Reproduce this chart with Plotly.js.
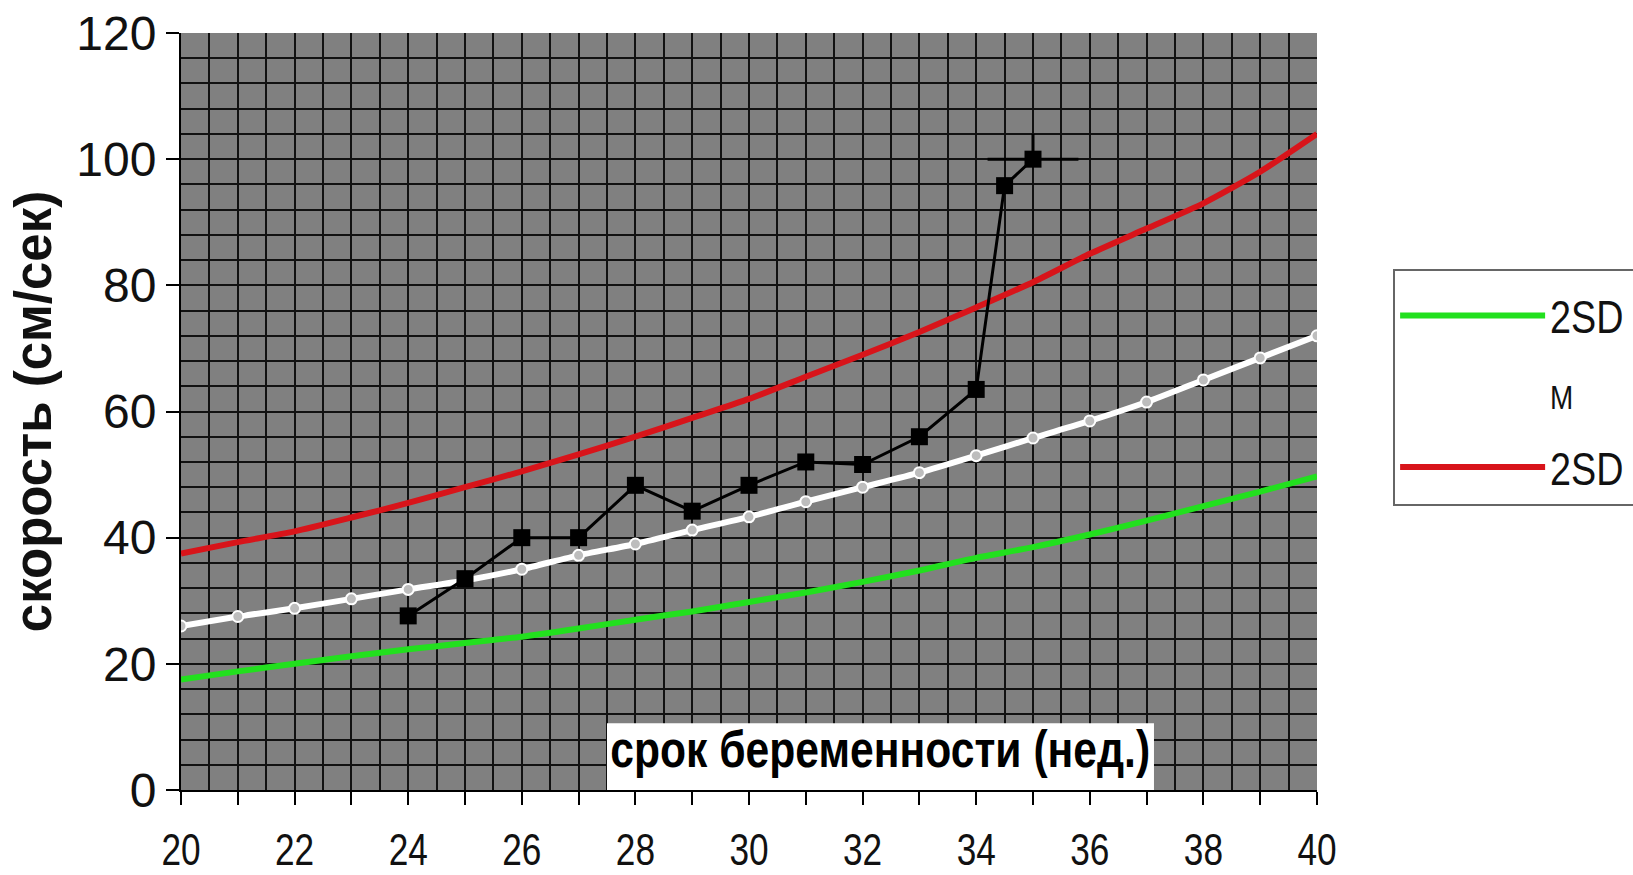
<!DOCTYPE html>
<html>
<head>
<meta charset="utf-8">
<script src="https://cdn.plot.ly/plotly-3.0.1.min.js"></script>
<style>
  html, body { margin: 0; padding: 0; background: #ffffff; }
  #chart { width: 1633px; height: 875px; }
</style>
</head>
<body>
<div id="chart"></div>
<script>
// Gestational age (weeks)
const weeks = [20, 21, 22, 23, 24, 25, 26, 27, 28, 29, 30, 31, 32, 33, 34, 35, 36, 37, 38, 39, 40];
// -2SD (green)
const lowerSD = [17.5, 18.8, 20, 21.2, 22.3, 23.3, 24.3, 25.6, 27, 28.3, 29.8, 31.3, 33, 34.8, 36.8, 38.5, 40.5, 42.7, 45, 47.3, 49.7];
// M (white)
const meanM = [26, 27.5, 28.8, 30.3, 31.8, 33.2, 35, 37.2, 39, 41.2, 43.3, 45.7, 48, 50.3, 53, 55.8, 58.5, 61.5, 65, 68.5, 72];
// +2SD (red)
const upperSD = [37.5, 39.3, 41, 43.2, 45.5, 48, 50.5, 53.2, 56, 59, 62, 65.5, 69, 72.6, 76.5, 80.5, 85, 89, 93, 98, 104];
// Patient measurements (black squares)
const patientWeeks = [24, 25, 26, 27, 28, 29, 30, 31, 32, 33, 34, 34.5, 35];
const patientVel = [27.6, 33.5, 40, 40, 48.3, 44.2, 48.3, 52, 51.6, 56, 63.5, 95.8, 100];
// small cross seen on the last measurement
const crossX = [0, 0, 0, 0, 0, 0, 0, 0, 0, 0, 0, 0, 0.8];
const crossUp = [0, 0, 0, 0, 0, 0, 0, 0, 0, 0, 0, 0, 4];
const crossDown = [0, 0, 0, 0, 0, 0, 0, 0, 0, 0, 0, 0, 0];

const xTitle = 'срок беременности (нед.)';
const yTitle = 'скорость (см/сек)';
const nameLower = '2SD';
const nameMean = '<span style="font-size:34px">M</span>';
const nameUpper = '2SD';

const regular = '"Liberation Sans", Arial, sans-serif';
const gridCol = '#111111';

const traces = [
  {
    x: weeks, y: lowerSD, name: nameLower, type: 'scatter', mode: 'lines',
    line: { color: '#22e01e', width: 6, shape: 'spline', smoothing: 0.6 },
    legendgroup: 'a'
  },
  // legend entry for M (white line, invisible on the white legend box)
  {
    x: [null], y: [null], name: nameMean, type: 'scatter', mode: 'lines',
    line: { color: '#ffffff', width: 6 },
    legendgroup: 'b'
  },
  {
    x: weeks, y: upperSD, name: nameUpper, type: 'scatter', mode: 'lines',
    line: { color: '#d8141a', width: 6, shape: 'spline', smoothing: 0.6 },
    legendgroup: 'c'
  },
  {
    x: weeks, y: meanM, name: 'M', type: 'scatter', mode: 'lines+markers',
    line: { color: '#ffffff', width: 6, shape: 'spline', smoothing: 0.6 },
    marker: { symbol: 'circle', size: 11, color: '#bdbdbd', line: { color: '#ffffff', width: 2 } },
    showlegend: false
  },
  {
    x: patientWeeks, y: patientVel, name: 'patient', type: 'scatter', mode: 'lines+markers',
    line: { color: '#000000', width: 3 },
    marker: { symbol: 'square', size: 17, color: '#000000' },
    error_x: { visible: true, type: 'data', symmetric: true, array: crossX, color: '#000000', thickness: 3, width: 0 },
    error_y: { visible: true, type: 'data', symmetric: false, array: crossUp, arrayminus: crossDown, color: '#000000', thickness: 3, width: 0 },
    showlegend: false
  }
];

const layout = {
  width: 1633, height: 875,
  paper_bgcolor: '#ffffff',
  plot_bgcolor: '#808080',
  margin: { l: 181, r: 316, t: 33, b: 85, autoexpand: false },
  showlegend: true,
  xaxis: {
    range: [20, 40], dtick: 1, tick0: 20, ticklabelstep: 2,
    ticks: 'outside', ticklen: 13, tickwidth: 2, tickcolor: '#000000',
    showline: true, linecolor: '#000000', linewidth: 2,
    showgrid: true, gridcolor: gridCol, gridwidth: 2,
    minor: { dtick: 0.5, tick0: 20, showgrid: true, gridcolor: gridCol, gridwidth: 2, ticks: '' },
    zeroline: false,
    tickfont: { family: regular, size: 44, color: '#111111' },
    ticklabelstandoff: 7,
    fixedrange: true
  },
  yaxis: {
    range: [0, 120], dtick: 20, tick0: 0,
    ticks: 'outside', ticklen: 13, tickwidth: 2, tickcolor: '#000000',
    showline: true, linecolor: '#000000', linewidth: 2,
    showgrid: true, gridcolor: gridCol, gridwidth: 2,
    minor: { dtick: 4, tick0: 0, showgrid: true, gridcolor: gridCol, gridwidth: 2, ticks: '' },
    zeroline: false,
    tickfont: { family: regular, size: 48, color: '#111111' },
    title: { text: '<b>' + yTitle + '</b>', font: { family: regular, size: 51, color: '#111111' }, standoff: 8 },
    fixedrange: true
  },
  legend: {
    x: 1.067, y: 0.688, xanchor: 'left', yanchor: 'top',
    bgcolor: '#ffffff', bordercolor: '#666666', borderwidth: 2,
    font: { family: regular, size: 46, color: '#111111' },
    title: { text: '\u00a0', font: { family: regular, size: 6, color: '#ffffff' } },
    itemwidth: 145, tracegroupgap: 13, traceorder: 'grouped'
  },
  shapes: [
    { type: 'rect', xref: 'x', yref: 'y', x0: 27.5, x1: 37.13, y0: 0, y1: 10.6,
      fillcolor: '#ffffff', line: { width: 0 }, layer: 'between' }
  ],
  annotations: [
    { xref: 'x', yref: 'y', x: 32.3, y: 6.5, text: '<b>' + xTitle + '</b>', showarrow: false,
      font: { family: regular, size: 52, color: '#000000' }, xanchor: 'center', yanchor: 'middle' }
  ]
};

// narrow the condensed-looking texts horizontally (text stays real text)
function squeeze(selector, s, anchor) {
  document.querySelectorAll(selector).forEach(function (t) {
    const b = t.getBBox();
    const cx = anchor === 'left' ? b.x : b.x + b.width / 2;
    const prev = t.getAttribute('transform') || '';
    t.setAttribute('transform', prev + ' translate(' + cx + ',0) scale(' + s + ',1) translate(' + (-cx) + ',0)');
  });
}

Plotly.newPlot('chart', traces, layout, { displayModeBar: false, staticPlot: true }).then(function () {
  squeeze('.xtick text', 0.8, 'center');
  squeeze('.legendtext', 0.82, 'left');
  squeeze('.annotation-text', 0.82, 'center');
});
</script>
</body>
</html>
